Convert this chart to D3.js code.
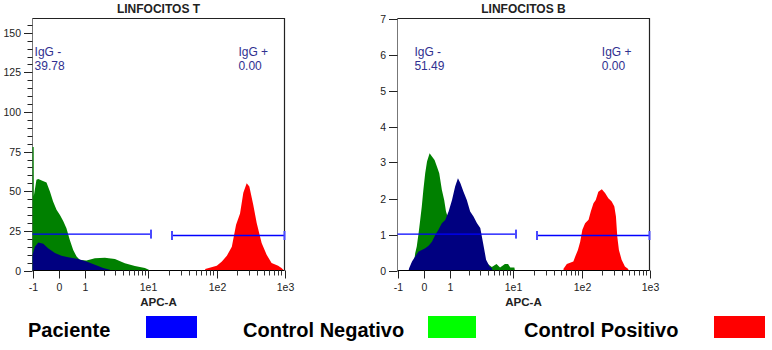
<!DOCTYPE html>
<html>
<head>
<meta charset="utf-8">
<script src="https://cdn.jsdelivr.net/npm/d3@7"></script>
<style>
    body { margin: 0; background: #fff; }
    svg { display: block; font-family: "Liberation Sans", Arial, sans-serif; }
</style>
</head>
<body>
<div id="chart"></div>
<script>
// ---- data ----
var panel_titles = ["LINFOCITOS T", "LINFOCITOS B"];
var x_tick_values = [-1, 0, 1, 10, 100, 1000];
var x_tick_labels = ["-1", "0", "1", "1e1", "1e2", "1e3"];
var x_label = "APC-A";
var y_ticks_t = [0, 25, 50, 75, 100, 125, 150];
var y_ticks_b = [0, 1, 2, 3, 4, 5, 6, 7];
var igg_neg_text = ["39.78", "51.49"];
var igg_pos_text = ["0.00", "0.00"];
var gate_neg = [-1, 11];
var gate_pos = [22.3, 1000];

// histograms, [APC-A, events]
var t_negativo = [[-1, 0], [-1, 78], [-0.955, 78], [-0.95, 47], [-0.85, 57.2], [-0.78, 57.8], [-0.65, 56.8],
    [-0.47, 55.5], [-0.34, 49.8], [-0.22, 43.5], [-0.09, 38.3], [0.04, 35], [0.17, 31], [0.29, 26.7],
    [0.42, 19.3], [0.55, 13], [0.68, 8.8], [0.81, 6.7], [1.06, 6.3], [1.44, 7.8], [2.07, 8], [2.98, 7.2],
    [4.28, 4.6], [6.16, 2.9], [8.87, 1.5], [10.2, 0.4], [10.3, 0]];
var t_paciente = [[-1, 0], [-1, 9.9], [-0.91, 15], [-0.78, 17.7], [-0.59, 16.8], [-0.41, 14], [-0.15, 11],
    [0.1, 9.3], [0.36, 8.4], [0.74, 7.2], [1.06, 5.7], [1.44, 3.6], [1.95, 1.5], [2.48, 0.4], [2.6, 0]];
var t_positivo = [[68.3, 0], [68.3, 0.9], [101, 3], [120, 5.7], [142, 9.3], [168, 15], [194, 28.8], [222, 36],
    [248, 49], [278, 55], [304, 53], [347, 41.5], [390, 30], [461, 17.3], [546, 10], [646, 4.7], [806, 3],
    [903, 1.5], [986, 0]];

var b_negativo = [[-0.39, 0], [-0.36, 0.3], [-0.33, 0.48], [-0.27, 0.67], [-0.2, 1.04], [-0.14, 1.4],
    [-0.08, 1.78], [-0.02, 2.24], [0.05, 2.7], [0.12, 3.03], [0.22, 3.26], [0.31, 3.17], [0.41, 3.07],
    [0.5, 2.89], [0.59, 2.7], [0.69, 2.24], [0.78, 1.96], [0.85, 1.64], [0.91, 1.5], [1.21, 1.2], [1.97, 0.7],
    [3.2, 0.3], [4.6, 0.1], [5.45, 0.18], [6.2, 0.08], [7.4, 0.18], [8.3, 0.18], [9.0, 0.08], [10.4, 0.08], [10.6, 0]];
var b_paciente = [[-0.58, 0], [-0.56, 0.06], [-0.45, 0.25], [-0.33, 0.39], [-0.2, 0.53], [-0.08, 0.57],
    [0.05, 0.62], [0.18, 0.69], [0.31, 0.8], [0.44, 0.99], [0.56, 1.13], [0.69, 1.31], [0.82, 1.4],
    [0.95, 1.64], [1.08, 1.96], [1.21, 2.33], [1.34, 2.56], [1.46, 2.43], [1.64, 2.19], [1.85, 1.96],
    [2.09, 1.64], [2.36, 1.5], [2.68, 1.31], [3.02, 1.18], [3.42, 0.67], [3.73, 0.3], [4.24, 0.11], [4.6, 0.06], [4.7, 0]];
var b_positivo = [[54.5, 0], [54.5, 0.05], [61, 0.18], [76, 0.25], [81, 0.39], [88.6, 0.57], [95.7, 0.8],
    [103, 1.13], [113, 1.31], [127, 1.41], [137, 1.64], [150, 1.87], [162, 1.96], [177, 2.19], [199, 2.26],
    [222, 2.15], [248, 2.01], [278, 1.92], [304, 1.78], [321, 1.5], [336, 0.94], [355, 0.57], [389, 0.3],
    [435, 0.11], [487, 0.04], [490, 0]];

var legend_labels = ["Paciente", "Control Negativo", "Control Positivo"];
var legend_colors = ["#0000ff", "#00ff00", "#ff0000"];

// ---- layout ----
var plot_w = 252;
var plot_top = 18.5;
var plot_bottom = 270.5;
var fill_negativo = "#008000";
var fill_paciente = "#000080";
var fill_positivo = "#ff0000";
var gate_color = "#0000ff";
var label_color = "#303090";

var svg = d3.select("#chart").append("svg")
    .attr("width", 772)
    .attr("height", 350);

// biexponential-like display: linear between -1 and 1, log above
function apc(v) {
    return Math.abs(v) <= 1 ? v : Math.sign(v) * (1 + Math.log10(Math.abs(v)));
}

var minor_x = [];
[1, 10, 100].forEach(function (dec) {
    for (var k = 2; k <= 9; k++) minor_x.push(k * dec);
});

var panels = [
    {left: 32.5, title: panel_titles[0], ymax: 159, yticks: y_ticks_t, yminor: 5,
        neg: t_negativo, pac: t_paciente, pos: t_positivo,
        neg_text: igg_neg_text[0], pos_text: igg_pos_text[0], neg_lab_x: -0.92, pos_lab_x: 210},
    {left: 397.5, title: panel_titles[1], ymax: 7, yticks: y_ticks_b, yminor: 0,
        neg: b_negativo, pac: b_paciente, pos: b_positivo,
        neg_text: igg_neg_text[1], pos_text: igg_pos_text[1], neg_lab_x: -0.36, pos_lab_x: 199}
];

panels.forEach(function (p) {
    var g = svg.append("g");
    var x_scale = d3.scaleLinear()
        .domain([-1, 0, 1, 2, 3, 4])
        .range([0, 26.4, 52.4, 115.7, 184, 252].map(function (d) { return d + p.left; }));
    var y_scale = d3.scaleLinear()
        .domain([0, p.ymax])
        .range([plot_bottom, plot_top]);
    var x = function (v) { return x_scale(apc(v)); };

    // y axis line under the histograms
    g.append("line")
        .attr("x1", p.left).attr("x2", p.left)
        .attr("y1", plot_top).attr("y2", plot_bottom)
        .attr("stroke", "#777");

    var area = d3.area()
        .x(function (d) { return x(d[0]); })
        .y0(y_scale(0))
        .y1(function (d) { return y_scale(d[1]); });

    g.append("path").attr("d", area(p.neg)).attr("fill", fill_negativo);
    g.append("path").attr("d", area(p.pac)).attr("fill", fill_paciente);
    g.append("path").attr("d", area(p.pos)).attr("fill", fill_positivo);

    // frame top + right
    g.append("path")
        .attr("d", "M" + p.left + "," + plot_top + "H" + (p.left + plot_w) + "V" + plot_bottom)
        .attr("fill", "none")
        .attr("stroke", "#222")
        .attr("stroke-width", 1.2);

    // title
    g.append("text")
        .attr("x", p.left + plot_w / 2)
        .attr("y", 12.7)
        .attr("text-anchor", "middle")
        .attr("font-size", 12)
        .attr("font-weight", "bold")
        .attr("fill", "#222")
        .text(p.title);

    // gates
    var gates = [[gate_neg, plot_bottom - 36.4], [gate_pos, plot_bottom - 35]];
    gates.forEach(function (gt) {
        var x1 = x(gt[0][0]), x2 = x(gt[0][1]), gy = gt[1];
        g.append("line")
            .attr("x1", x1).attr("x2", x2).attr("y1", gy).attr("y2", gy)
            .attr("stroke", gate_color).attr("stroke-width", 1.3);
        [gt[0][0], gt[0][1]].forEach(function (v) {
            if (v <= -1) return;
            g.append("line")
                .attr("x1", x(v)).attr("x2", x(v))
                .attr("y1", gy - 4.5).attr("y2", gy + 4.5)
                .attr("stroke", "#4a4aff").attr("stroke-width", 2);
        });
    });

    // IgG labels
    [[p.neg_lab_x, "IgG -", p.neg_text], [p.pos_lab_x, "IgG +", p.pos_text]].forEach(function (l) {
        var t = g.append("text")
            .attr("x", x(l[0]))
            .attr("y", 56)
            .attr("font-size", 12)
            .attr("fill", label_color);
        t.append("tspan").attr("x", x(l[0])).text(l[1]);
        t.append("tspan").attr("x", x(l[0])).attr("dy", 14).text(l[2]);
    });

    // y ticks
    if (p.yminor > 0) {
        d3.range(0, p.ymax, p.yminor).forEach(function (v) {
            if (p.yticks.indexOf(v) >= 0) return;
            g.append("line")
                .attr("x1", p.left - 5).attr("x2", p.left)
                .attr("y1", Math.round(y_scale(v)) + 0.5).attr("y2", Math.round(y_scale(v)) + 0.5)
                .attr("stroke", "#222");
        });
    }
    p.yticks.forEach(function (v) {
        var yy = Math.round(y_scale(v)) + 0.5;
        g.append("line")
            .attr("x1", p.left - 8.5).attr("x2", p.left)
            .attr("y1", yy).attr("y2", yy)
            .attr("stroke", "#222");
        g.append("text")
            .attr("x", p.left - 11.5)
            .attr("y", yy + 3.8)
            .attr("text-anchor", "end")
            .attr("font-size", 10.5)
            .attr("fill", "#222")
            .text(v);
    });

    // x axis
    g.append("line")
        .attr("x1", p.left).attr("x2", p.left + plot_w)
        .attr("y1", plot_bottom).attr("y2", plot_bottom)
        .attr("stroke", "#000");
    minor_x.forEach(function (v) {
        var xx = Math.round(x(v)) + 0.5;
        g.append("line")
            .attr("x1", xx).attr("x2", xx)
            .attr("y1", plot_bottom).attr("y2", plot_bottom + 5)
            .attr("stroke", "#333");
    });
    x_tick_values.forEach(function (v, i) {
        var xx = Math.round(x(v)) + 0.5;
        g.append("line")
            .attr("x1", xx).attr("x2", xx)
            .attr("y1", plot_bottom).attr("y2", plot_bottom + 8)
            .attr("stroke", "#222");
        g.append("text")
            .attr("x", xx)
            .attr("y", 291.3)
            .attr("text-anchor", "middle")
            .attr("font-size", 10.5)
            .attr("fill", "#222")
            .text(x_tick_labels[i]);
    });
    g.append("text")
        .attr("x", p.left + plot_w / 2)
        .attr("y", 305.5)
        .attr("text-anchor", "middle")
        .attr("font-size", 11.6)
        .attr("font-weight", "bold")
        .attr("fill", "#222")
        .text(x_label);
});

// legend
var legend_text_x = [28, 243, 524];
var legend_box_x = [146, 428, 714];
var legend_box_w = [51, 48, 51];
legend_labels.forEach(function (lab, i) {
    svg.append("text")
        .attr("x", legend_text_x[i])
        .attr("y", 337)
        .attr("font-size", 20)
        .attr("font-weight", "bold")
        .attr("fill", "#000")
        .text(lab);
    svg.append("rect")
        .attr("x", legend_box_x[i])
        .attr("y", 316)
        .attr("width", legend_box_w[i])
        .attr("height", 22)
        .attr("fill", legend_colors[i]);
});
</script>
</body>
</html>
